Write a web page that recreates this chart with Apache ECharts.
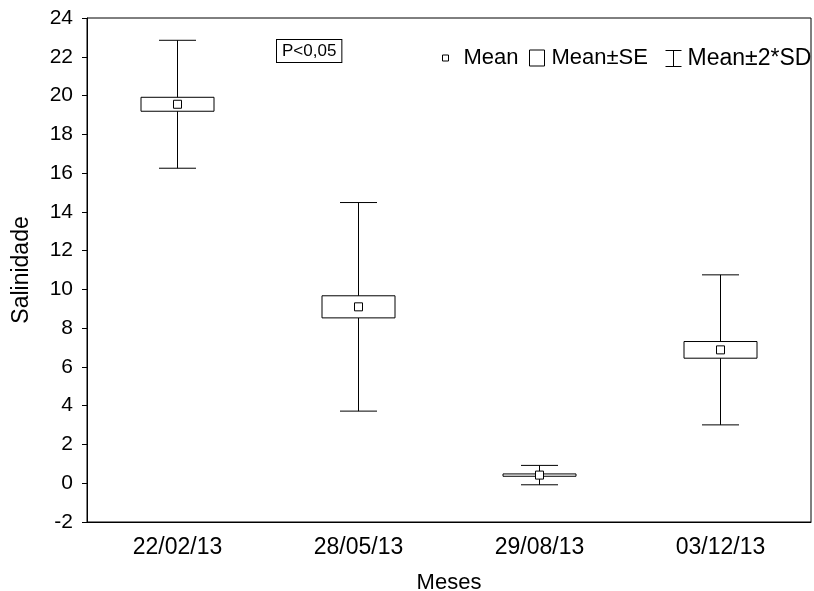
<!DOCTYPE html>
<html>
<head>
<meta charset="utf-8">
<script src="https://cdn.jsdelivr.net/npm/echarts@6/dist/echarts.min.js"></script>
<style>html,body{margin:0;padding:0;background:#fff}#c{width:814px;height:591px}</style>
</head>
<body>
<div id="c"></div>
<script>
const categories = ['22/02/13', '28/05/13', '29/08/13', '03/12/13'];
const means = [19.55, 9.10, 0.42, 6.88];
const se = [0.36, 0.57, 0.06, 0.43];
const twoSD = [3.30, 5.38, 0.50, 3.87];
const yTicks = {min: -2, max: 24, interval: 2};
const FONT = '"Liberation Sans", Arial, sans-serif';

const chart = echarts.init(document.getElementById('c'), null, {renderer: 'canvas'});

const whiskerData = categories.map((c, i) => [i, means[i], twoSD[i]]);
const boxData = categories.map((c, i) => [i, means[i], se[i]]);
const meanData = categories.map((c, i) => [i, means[i]]);

function renderWhisker(params, api) {
  const i = api.value(0), m = api.value(1), d = api.value(2);
  const top = api.coord([i, m + d]);
  const bot = api.coord([i, m - d]);
  const half = 18.5;
  const st = {stroke: '#000', lineWidth: 1, fill: null};
  return {
    type: 'group',
    children: [
      {type: 'line', shape: {x1: top[0], y1: top[1], x2: bot[0], y2: bot[1]}, style: st},
      {type: 'line', shape: {x1: top[0] - half, y1: top[1], x2: top[0] + half, y2: top[1]}, style: st},
      {type: 'line', shape: {x1: bot[0] - half, y1: bot[1], x2: bot[0] + half, y2: bot[1]}, style: st}
    ]
  };
}
function renderBox(params, api) {
  const i = api.value(0), m = api.value(1), s = api.value(2);
  const top = api.coord([i, m + s]);
  const bot = api.coord([i, m - s]);
  const w = 73;
  return {
    type: 'rect',
    shape: {x: top[0] - w / 2, y: top[1], width: w, height: bot[1] - top[1]},
    style: {fill: '#fff', stroke: '#000', lineWidth: 1}
  };
}

const legendText = {color: '#000', fontSize: 22, fontFamily: FONT};

chart.setOption({
  animation: false,
  backgroundColor: '#fff',
  grid: {left: 87, right: 3, top: 18, bottom: 69, show: true, borderColor: '#000', borderWidth: 1,
         backgroundColor: 'transparent', containLabel: false, outerBoundsMode: 'none'},
  xAxis: {
    type: 'category',
    data: categories,
    boundaryGap: true,
    name: 'Meses',
    nameLocation: 'middle',
    nameGap: 50,
    nameTextStyle: {color: '#000', fontSize: 22, fontFamily: FONT},
    axisLine: {onZero: false, lineStyle: {color: '#000', width: 1}},
    axisTick: {alignWithLabel: true, inside: true, length: 4, lineStyle: {color: '#000'}},
    axisLabel: {color: '#000', fontSize: 23, fontFamily: FONT, margin: 14},
    splitLine: {show: false}
  },
  yAxis: {
    type: 'value',
    min: yTicks.min, max: yTicks.max, interval: yTicks.interval,
    name: 'Salinidade',
    nameLocation: 'middle',
    nameGap: 54,
    nameRotate: 90,
    nameTextStyle: {color: '#000', fontSize: 23, fontFamily: FONT},
    axisLine: {show: true, onZero: false, lineStyle: {color: '#000', width: 1}},
    axisTick: {show: true, inside: false, length: 5, lineStyle: {color: '#000'}},
    axisLabel: {color: '#000', fontSize: 21, fontFamily: FONT, margin: 14},
    splitLine: {show: false}
  },
  legend: [
    {left: 442, top: 47, padding: 0, selectedMode: false, itemWidth: 6, itemHeight: 6,
     textStyle: Object.assign({padding: [0, 0, 0, 10]}, legendText),
     data: [{name: 'Mean', icon: 'rect', itemStyle: {color: '#fff', borderColor: '#000', borderWidth: 1}}]},
    {left: 529, top: 47, padding: 0, selectedMode: false, itemWidth: 15, itemHeight: 16,
     textStyle: Object.assign({padding: [0, 0, 0, 2]}, legendText),
     data: [{name: 'Mean±SE', icon: 'rect', itemStyle: {color: '#fff', borderColor: '#000', borderWidth: 1}}]},
    {left: 665, top: 47, padding: 0, selectedMode: false, itemWidth: 16, itemHeight: 16,
     textStyle: Object.assign({padding: [0, 0, 0, 1]}, {color: '#000', fontSize: 23, fontFamily: FONT}),
     data: [{name: 'Mean±2*SD', icon: 'path://M0,0L16,0M8,0L8,16M0,16L16,16', itemStyle: {color: 'transparent', borderColor: '#000', borderWidth: 1}}]}
  ],
  graphic: [
    {type: 'text', left: 276, top: 39, z: 10,
     style: {text: 'P<0,05', fill: '#000', fontSize: 17, fontFamily: FONT, padding: [3, 5, 2, 5],
             backgroundColor: '#fff', borderColor: '#000', borderWidth: 1}}
  ],
  series: [
    {name: 'Mean±2*SD', type: 'custom', renderItem: renderWhisker, data: whiskerData, z: 2,
     itemStyle: {color: '#000'}, encode: {x: 0, y: [1]}},
    {name: 'Mean±SE', type: 'custom', renderItem: renderBox, data: boxData, z: 3,
     itemStyle: {color: '#fff', borderColor: '#000'}, encode: {x: 0, y: [1]}},
    {name: 'Mean', type: 'scatter', data: meanData, z: 4, symbol: 'rect', symbolSize: 8,
     itemStyle: {color: '#fff', borderColor: '#000', borderWidth: 1, opacity: 1}}
  ]
});
</script>
</body>
</html>
